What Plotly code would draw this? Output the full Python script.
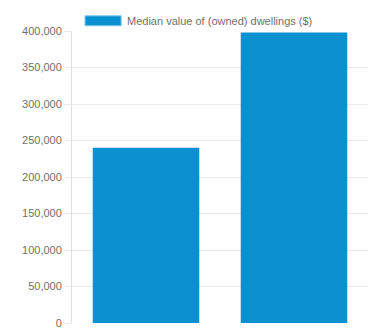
import plotly.graph_objects as go

# Median dwelling values for the two areas compared
areas = ["Area A", "Area B"]
median_values = [240000, 398000]
series_name = "Median value of (owned) dwellings ($)"
y_ticks = [0, 50000, 100000, 150000, 200000, 250000, 300000, 350000, 400000]

bar_color = "#0b90d0"
grid_color = "#ebebeb"
text_color = "#707070"
font_family = "Liberation Sans, Arial, sans-serif"

fig = go.Figure()
fig.add_trace(go.Bar(
    x=areas,
    y=median_values,
    name=series_name,
    marker=dict(color=bar_color, line=dict(width=0)),
    showlegend=False,
))

# Legend drawn as a wide colour box with a label, centred above the plot
fig.add_shape(
    type="rect", xref="paper", yref="paper",
    x0=0.044, x1=0.166, y0=1.018, y1=1.052,
    fillcolor=bar_color, line=dict(color="#7fc8ea", width=1),
)
fig.add_annotation(
    text=series_name, xref="paper", yref="paper",
    x=0.179, y=1.035, xanchor="left", yanchor="middle",
    showarrow=False, font=dict(size=11, color=text_color, family=font_family),
)

fig.update_layout(
    width=378, height=329,
    margin=dict(l=72, r=10, t=31, b=6, autoexpand=False),
    paper_bgcolor="white", plot_bgcolor="white",
    bargap=0.28,
    font=dict(family=font_family, size=11, color=text_color),
    xaxis=dict(
        showticklabels=False, showgrid=False, zeroline=False,
        showline=False, ticks="", automargin=False,
    ),
    yaxis=dict(
        range=[0, 400000],
        tickvals=y_ticks,
        tickformat=",d",
        automargin=False,
        showgrid=True, gridcolor=grid_color, gridwidth=1,
        zeroline=False,
        showline=True, linecolor="#e0e0e0", linewidth=1,
        ticks="outside", ticklen=7, tickcolor=grid_color,
        ticklabelstandoff=0,
        ticklabeloverflow="allow",
        tickfont=dict(size=11, color=text_color, family=font_family),
    ),
)

fig.write_html("out.html")
